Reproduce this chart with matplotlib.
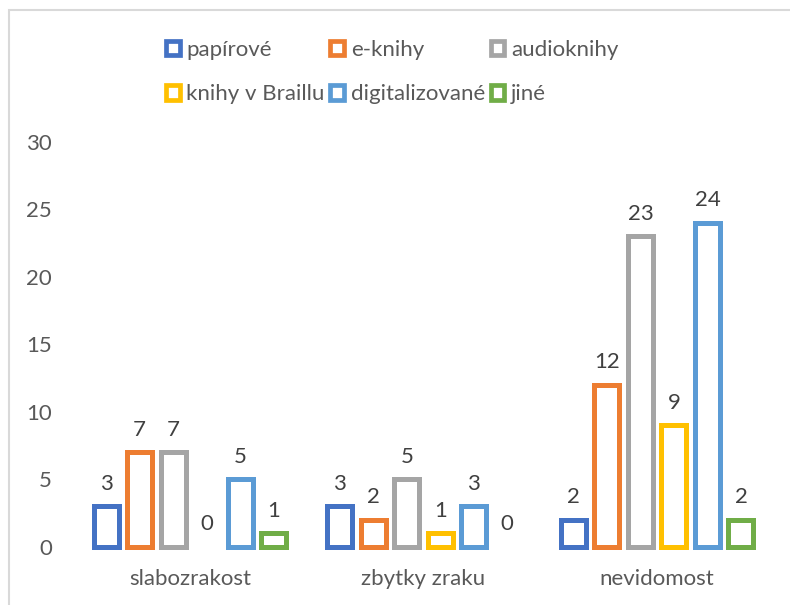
import matplotlib
matplotlib.use("Agg")
import matplotlib.pyplot as plt
from matplotlib.patches import Patch, Rectangle
import numpy as np

categories = ["slabozrakost", "zbytky zraku", "nevidomost"]
series_names = ["papírové", "e-knihy", "audioknihy", "knihy v Braillu", "digitalizované", "jiné"]
papirove = [3, 3, 2]
e_knihy = [7, 2, 12]
audioknihy = [7, 5, 23]
braill = [0, 1, 9]
digitalizovane = [5, 3, 24]
jine = [1, 0, 2]
series_values = [papirove, e_knihy, audioknihy, braill, digitalizovane, jine]
colors = ["#4472C4", "#ED7D31", "#A5A5A5", "#FFC000", "#5B9BD5", "#70AD47"]
yticks = [0, 5, 10, 15, 20, 25, 30]

plt.rcParams['font.family'] = ['Lato', 'DejaVu Sans']
FS = 16
TICK_C = "#595959"
LABEL_C = "#404040"

fig = plt.figure(figsize=(7.9, 6.05), dpi=100)
ax = fig.add_axes([73/790, 1-547/605, (774-73)/790, (547-141.7)/605])

x = np.arange(len(categories))
slot = 33.5/233.5
width = 25/233.5
n = len(series_names)
for i, (name, vals, c) in enumerate(zip(series_names, series_values, colors)):
    pos = x + (i - (n-1)/2) * slot
    bars = ax.bar(pos, vals, width=width, facecolor="white", edgecolor=c,
                  linewidth=3.6, clip_on=False, label=name)
    for b, v in zip(bars, vals):
        if v == 0:
            b.set_edgecolor("none")
    for p, v in zip(pos, vals):
        ax.annotate(str(v), (p, v), xytext=(0, 12), textcoords="offset points",
                    ha="center", va="baseline", fontsize=FS, color=LABEL_C)

ax.set_xlim(-0.5, 2.5)
ax.set_ylim(0, 30)
ax.set_yticks(yticks)
ax.set_xticks(x)
ax.set_xticklabels(categories)
ax.tick_params(axis="both", length=0, labelsize=FS, colors=TICK_C)
ax.tick_params(axis="y", pad=15)
ax.tick_params(axis="x", pad=16)
for s in ax.spines.values():
    s.set_visible(False)

handles = [Patch(facecolor="white", edgecolor=c, linewidth=3.4, label=nm)
           for nm, c in zip(series_names, colors)]
order = [0, 3, 1, 4, 2, 5]
handles = [handles[k] for k in order]
leg = fig.legend(handles=handles, ncol=3, loc="upper left",
                 bbox_to_anchor=(166/790, 1-40/605), frameon=False,
                 fontsize=FS, handlelength=0.62, handleheight=0.62,
                 handletextpad=0.3, columnspacing=0.25, labelspacing=1.1,
                 borderpad=0, borderaxespad=0)
for t in leg.get_texts():
    t.set_color(TICK_C)

border = Rectangle((9/790, -0.5), 2, 1.5 - 10/605, transform=fig.transFigure,
                   fill=False, edgecolor="#D9D9D9", linewidth=1.5, clip_on=False)
fig.patches.append(border)

fig.savefig("out.png", dpi=100)
